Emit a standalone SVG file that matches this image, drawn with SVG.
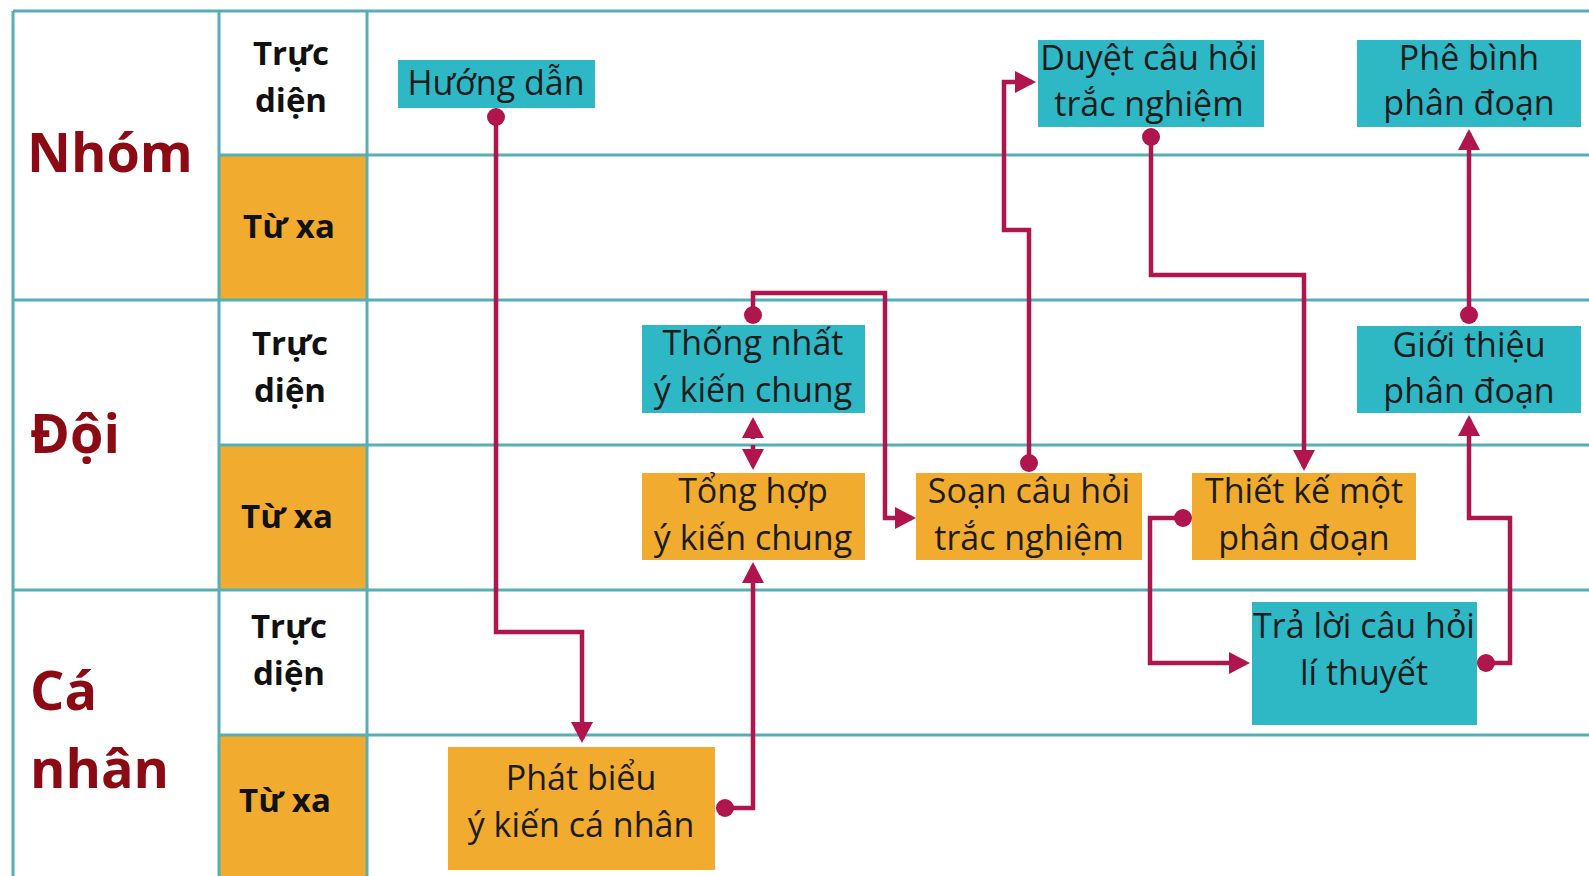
<svg xmlns="http://www.w3.org/2000/svg" width="1589" height="876" viewBox="0 0 1589 876">
<style>
.grid{stroke:#55AFB6;stroke-width:3;fill:none}
.cell{fill:#F1AB2E}
.lane{font-family:"Open Sans","Liberation Sans",sans-serif;font-weight:bold;font-size:54px;fill:#8C0A14}
.sub{font-family:"Open Sans","Liberation Sans",sans-serif;font-weight:bold;font-size:33px;fill:#111;text-anchor:middle}
.teal{fill:#2EB7C4}
.orange{fill:#F1AB2E}
.t{font-family:"Open Sans","Liberation Sans",sans-serif;font-size:34px;fill:#1c1c1c;text-anchor:middle}
.c{stroke:#B0154E;stroke-width:4.5;fill:none}
.dot{fill:#B0154E}
</style>
<defs>
<marker id="arr" markerUnits="userSpaceOnUse" markerWidth="22" markerHeight="22" viewBox="0 0 22 22" refX="17" refY="11" orient="auto-start-reverse">
<path d="M0,0 L21,11 L0,22 z" fill="#B0154E"/>
</marker>
</defs>
<rect width="1589" height="876" fill="#fff"/>
<g id="grid">
<rect class="cell" x="220" y="156" width="146" height="143"/>
<rect class="cell" x="220" y="446" width="146" height="143"/>
<rect class="cell" x="220" y="736" width="146" height="140"/>
<path class="grid" d="M13,11 H1589 M219,155 H1589 M13,300 H1589 M219,445 H1589 M13,590 H1589 M219,735 H1589 M13,11 V876 M219,11 V876 M367,11 V876"/>
</g>
<g id="lanes">
<text class="lane" x="27" y="172">Nhóm</text>
<text class="lane" x="30" y="453">Đội</text>
<text class="lane" x="30" y="710">Cá</text>
<text class="lane" x="30" y="788">nhân</text>
<text class="sub" x="291" y="65">Trực</text>
<text class="sub" x="291" y="112">diện</text>
<text class="sub" x="289" y="238">Từ xa</text>
<text class="sub" x="290" y="355">Trực</text>
<text class="sub" x="290" y="402">diện</text>
<text class="sub" x="287" y="528">Từ xa</text>
<text class="sub" x="289" y="638">Trực</text>
<text class="sub" x="289" y="685">diện</text>
<text class="sub" x="285" y="812">Từ xa</text>
</g>
<g id="n-huongdan"><rect class="teal" x="398" y="60" width="197" height="48"/><text class="t" x="496" y="95">Hướng dẫn</text></g>
<g id="n-phatbieu"><rect class="orange" x="448" y="747" width="267" height="123"/><text class="t" x="581" y="790">Phát biểu</text><text class="t" x="581" y="837">ý kiến cá nhân</text></g>
<g id="n-thongnhat"><rect class="teal" x="642" y="325" width="223" height="88"/><text class="t" x="753" y="355">Thống nhất</text><text class="t" x="753" y="402">ý kiến chung</text></g>
<g id="n-tonghop"><rect class="orange" x="642" y="473" width="223" height="87"/><text class="t" x="753" y="503">Tổng hợp</text><text class="t" x="753" y="550">ý kiến chung</text></g>
<g id="n-soan"><rect class="orange" x="916" y="473" width="226" height="87"/><text class="t" x="1029" y="503">Soạn câu hỏi</text><text class="t" x="1029" y="550">trắc nghiệm</text></g>
<g id="n-duyet"><rect class="teal" x="1038" y="40" width="226" height="87"/><text class="t" x="1149" y="70">Duyệt câu hỏi</text><text class="t" x="1149" y="116">trắc nghiệm</text></g>
<g id="n-thietke"><rect class="orange" x="1192" y="473" width="224" height="87"/><text class="t" x="1304" y="503">Thiết kế một</text><text class="t" x="1304" y="550">phân đoạn</text></g>
<g id="n-traloi"><rect class="teal" x="1252" y="602" width="225" height="123"/><text class="t" x="1364" y="638">Trả lời câu hỏi</text><text class="t" x="1364" y="685">lí thuyết</text></g>
<g id="n-gioithieu"><rect class="teal" x="1357" y="326" width="224" height="87"/><text class="t" x="1469" y="357">Giới thiệu</text><text class="t" x="1469" y="403">phân đoạn</text></g>
<g id="n-phebinh"><rect class="teal" x="1357" y="40" width="224" height="87"/><text class="t" x="1469" y="70">Phê bình</text><text class="t" x="1469" y="115">phân đoạn</text></g>
<g id="connectors">
<path class="c" marker-end="url(#arr)" d="M496,117 V632 H582 V739"/>
<path class="c" marker-end="url(#arr)" d="M725,808 H753 V566"/>
<path class="c" stroke-dasharray="6,6" marker-start="url(#arr)" marker-end="url(#arr)" d="M753,421 V466"/>
<path class="c" marker-end="url(#arr)" d="M753,315 V293 H885 V518 H912"/>
<path class="c" marker-end="url(#arr)" d="M1029,463 V230 H1004 V82 H1032"/>
<path class="c" marker-end="url(#arr)" d="M1151,137 V275 H1304 V467"/>
<path class="c" marker-end="url(#arr)" d="M1183,518 H1150 V663 H1246"/>
<path class="c" marker-end="url(#arr)" d="M1486,663 H1510 V518 H1469 V419"/>
<path class="c" marker-end="url(#arr)" d="M1469,315 V133"/>
<circle class="dot" cx="496" cy="117" r="9"/>
<circle class="dot" cx="725" cy="808" r="9"/>
<circle class="dot" cx="753" cy="315" r="9"/>
<circle class="dot" cx="1029" cy="463" r="9"/>
<circle class="dot" cx="1151" cy="137" r="9"/>
<circle class="dot" cx="1183" cy="518" r="9"/>
<circle class="dot" cx="1486" cy="663" r="9"/>
<circle class="dot" cx="1469" cy="315" r="9"/>
</g>
</svg>
